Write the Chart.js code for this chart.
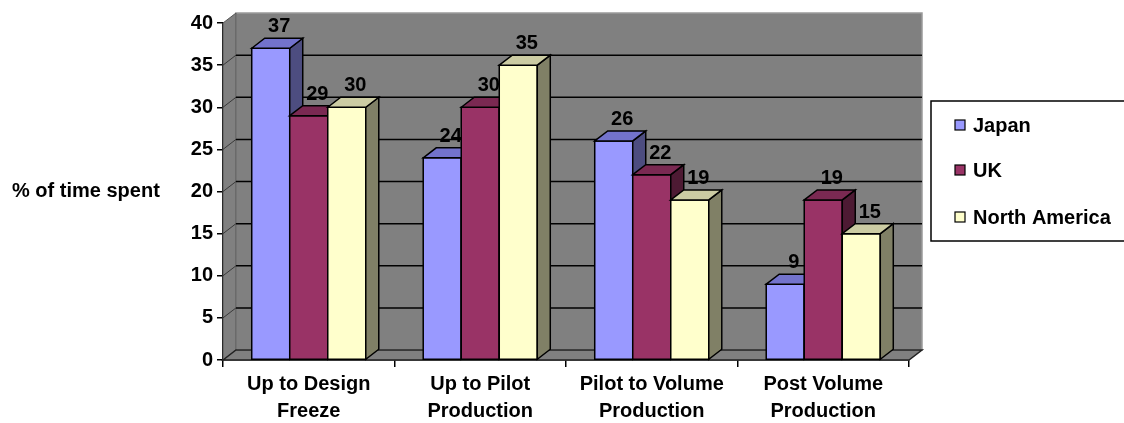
<!DOCTYPE html>
<html>
<head>
<meta charset="utf-8">
<script src="https://cdn.jsdelivr.net/npm/chart.js@4.4.0/dist/chart.umd.min.js"></script>
<style>
  html, body { margin: 0; padding: 0; background: #fff; }
  canvas { display: block; }
</style>
</head>
<body>
<canvas id="chart" width="1124" height="423"></canvas>
<script>
// ---- data ----
const categories = [
  ['Up to Design', 'Freeze'],
  ['Up to Pilot', 'Production'],
  ['Pilot to Volume', 'Production'],
  ['Post Volume', 'Production']
];
const seriesNames = ['Japan', 'UK', 'North America'];
const japan = [37, 24, 26, 9];
const uk = [29, 30, 22, 19];
const northAmerica = [30, 35, 19, 15];
const yMin = 0, yMax = 40, yStep = 5;
const yTitle = '% of time spent';

// front / top / side shades per series
const faceColors = [
  { front: '#9999FF', top: '#7373CC', side: '#4D4D80' },
  { front: '#993366', top: '#7A2952', side: '#4D1A33' },
  { front: '#FFFFCC', top: '#CCCCA3', side: '#808066' }
];

const FONT = 'Arial, "Liberation Sans", sans-serif';
const FSIZE = 20;
const DX = 13, DY = -10;   // depth offset of the 3d box

function poly(ctx, pts, fill, stroke, lw) {
  ctx.beginPath();
  ctx.moveTo(pts[0][0], pts[0][1]);
  for (let i = 1; i < pts.length; i++) ctx.lineTo(pts[i][0], pts[i][1]);
  ctx.closePath();
  if (fill) { ctx.fillStyle = fill; ctx.fill(); }
  if (stroke) { ctx.strokeStyle = stroke; ctx.lineWidth = lw || 1; ctx.stroke(); }
}

// walls, floor, back gridlines, 3d bars, labels, legend
const box3d = {
  id: 'box3d',
  beforeDatasetsDraw(chart) {
    const { ctx, chartArea: { left, right, top, bottom } } = chart;
    const ys = chart.scales.y;
    ctx.save();
    // back wall
    poly(ctx, [[left + DX, top + DY], [right + DX, top + DY], [right + DX, bottom + DY], [left + DX, bottom + DY]], '#808080', '#9a9a9a', 1.5);
    // left wall
    poly(ctx, [[left, top], [left + DX, top + DY], [left + DX, bottom + DY], [left, bottom]], '#808080', '#555', 1);
    // floor
    poly(ctx, [[left, bottom], [left + DX, bottom + DY], [right + DX, bottom + DY], [right, bottom]], '#808080', '#222', 1.5);
    // gridlines on back wall and left wall
    for (let v = yMin + yStep; v < yMax; v += yStep) {
      const y = ys.getPixelForValue(v);
      ctx.strokeStyle = '#000';
      ctx.lineWidth = 1.5;
      ctx.beginPath();
      ctx.moveTo(left + DX, y + DY);
      ctx.lineTo(right + DX, y + DY);
      ctx.stroke();
      ctx.strokeStyle = '#3a3a3a';
      ctx.lineWidth = 1;
      ctx.beginPath();
      ctx.moveTo(left, y);
      ctx.lineTo(left + DX, y + DY);
      ctx.stroke();
    }
    ctx.restore();
  },
  afterDatasetsDraw(chart) {
    const { ctx } = chart;
    ctx.save();
    // chart.js paints datasets last-to-first, so redo the boxes left to right
    chart.data.datasets.forEach((ds, i) => {
      const c = faceColors[i];
      chart.getDatasetMeta(i).data.forEach(bar => {
        const x1 = bar.x - bar.width / 2, x2 = bar.x + bar.width / 2;
        const y = bar.y, base = bar.base;
        poly(ctx, [[x1, y], [x2, y], [x2, base], [x1, base]], c.front, '#000', 1.5);
        poly(ctx, [[x2, y], [x2 + DX, y + DY], [x2 + DX, base + DY], [x2, base]], c.side, '#000', 1.5);
        poly(ctx, [[x1, y], [x1 + DX, y + DY], [x2 + DX, y + DY], [x2, y]], c.top, '#000', 1.5);
      });
    });
    // value labels
    ctx.fillStyle = '#000';
    ctx.font = 'bold ' + FSIZE + 'px ' + FONT;
    ctx.textAlign = 'center';
    ctx.textBaseline = 'alphabetic';
    chart.data.datasets.forEach((ds, i) => {
      chart.getDatasetMeta(i).data.forEach((bar, j) => {
        ctx.fillText(String(ds.data[j]), bar.x + DX / 2 + 2, bar.y + DY - 6);
      });
    });
    ctx.restore();
  },
  afterDraw(chart) {
    const { ctx } = chart;
    ctx.save();
    ctx.fillStyle = '#000';
    ctx.font = 'bold ' + FSIZE + 'px ' + FONT;
    ctx.textAlign = 'left';
    ctx.textBaseline = 'middle';
    ctx.fillText(yTitle, 12, 191);

    // legend box (runs off the right edge like the original)
    ctx.strokeStyle = '#000';
    ctx.lineWidth = 1.5;
    ctx.strokeRect(931, 101, 220, 140);
    const rows = [125, 170, 217];
    chart.data.datasets.forEach((ds, i) => {
      ctx.fillStyle = ds.backgroundColor;
      ctx.fillRect(955, rows[i] - 5, 10, 10);
      ctx.strokeStyle = '#000';
      ctx.lineWidth = 1.2;
      ctx.strokeRect(955, rows[i] - 5, 10, 10);
      ctx.fillStyle = '#000';
      ctx.fillText(ds.label, 973, rows[i] + 1);
    });
    ctx.restore();
  }
};

const seriesData = [japan, uk, northAmerica];

new Chart(document.getElementById('chart').getContext('2d'), {
  type: 'bar',
  data: {
    labels: categories,
    datasets: seriesNames.map((name, i) => ({
      label: name,
      data: seriesData[i],
      backgroundColor: faceColors[i].front,
      borderColor: '#000',
      borderWidth: 0,
      categoryPercentage: 0.665,
      barPercentage: 1.0
    }))
  },
  options: {
    responsive: false,
    animation: false,
    devicePixelRatio: 1,
    layout: { padding: { top: 23, right: 215, bottom: 0, left: 0 } },
    plugins: {
      legend: { display: false },
      tooltip: { enabled: false }
    },
    scales: {
      x: {
        grid: { display: true, drawOnChartArea: false, drawTicks: true, tickLength: 7, color: '#000', lineWidth: 1.5, offset: true },
        border: { display: true, color: '#000', width: 1.5 },
        ticks: {
          color: '#000', padding: 4, maxRotation: 0, autoSkip: false,
          font: { family: FONT, size: FSIZE, weight: 'bold', lineHeight: 1.35 }
        },
        afterFit(scale) { scale.height = 63; }
      },
      y: {
        min: yMin, max: yMax,
        grid: { display: true, drawOnChartArea: false, drawTicks: true, tickLength: 6, color: '#000', lineWidth: 1.5 },
        border: { display: true, color: '#000', width: 1.5 },
        ticks: {
          stepSize: yStep, color: '#000', padding: 4,
          font: { family: FONT, size: FSIZE, weight: 'bold' }
        },
        afterFit(scale) { scale.width = 223; }
      }
    }
  },
  plugins: [box3d]
});
</script>
</body>
</html>
